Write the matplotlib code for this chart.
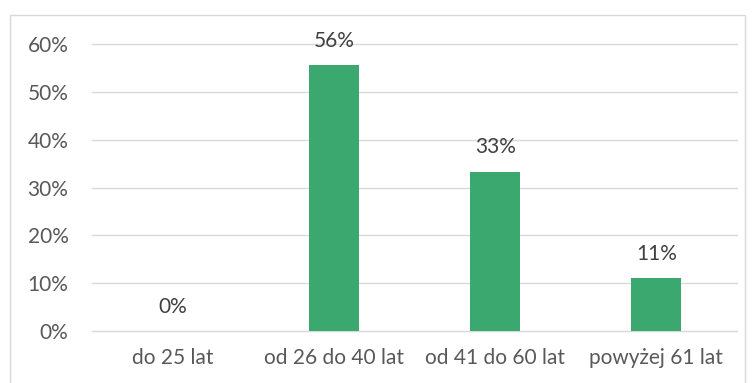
import matplotlib
matplotlib.use("Agg")
import matplotlib.pyplot as plt
from matplotlib.patches import Rectangle

# dane
kategorie = ["do 25 lat", "od 26 do 40 lat", "od 41 do 60 lat", "powyżej 61 lat"]
wartosci = [0.0, 5 / 9, 3 / 9, 1 / 9]
etykiety = ["0%", "56%", "33%", "11%"]
yticks = [0, 0.1, 0.2, 0.3, 0.4, 0.5, 0.6]
ytick_labels = ["0%", "10%", "20%", "30%", "40%", "50%", "60%"]

plt.rcParams['font.family'] = ['Lato', 'DejaVu Sans']
txt = '#595959'

fig = plt.figure(figsize=(7.55, 3.83), dpi=100)
ax = fig.add_axes([92 / 755, 52 / 383, 645 / 755, 287 / 383])

# ramka wokol wykresu
fig.patches.append(Rectangle((10 / 755, -0.05), 735 / 755, 1.05 - 15 / 383,
                             transform=fig.transFigure, fill=False,
                             edgecolor='#D9D9D9', linewidth=1.0))

x = range(len(kategorie))
ax.bar(x, wartosci, width=0.31, color='#3AA86F', zorder=3)
for i, (v, e) in enumerate(zip(wartosci, etykiety)):
    ax.text(i, v + 0.03, e, ha='center', va='bottom', fontsize=15, color='#404040')

ax.set_xlim(-0.5, len(kategorie) - 0.5)
ax.set_ylim(0, 0.6)
ax.set_yticks(yticks)
ax.set_yticklabels(ytick_labels)
ax.set_xticks(list(x))
ax.set_xticklabels(kategorie)
ax.tick_params(axis='both', length=0, labelsize=15, colors=txt)
ax.tick_params(axis='y', pad=17)
ax.tick_params(axis='x', pad=12)
ax.grid(axis='y', color='#D9D9D9', linewidth=1.0, zorder=0)
ax.set_axisbelow(True)
for s in ax.spines.values():
    s.set_visible(False)
ax.spines['bottom'].set_visible(True)
ax.spines['bottom'].set_color('#D9D9D9')

for line in ax.get_ygridlines():
    line.set_clip_on(False)

fig.savefig("out.png", dpi=100)
